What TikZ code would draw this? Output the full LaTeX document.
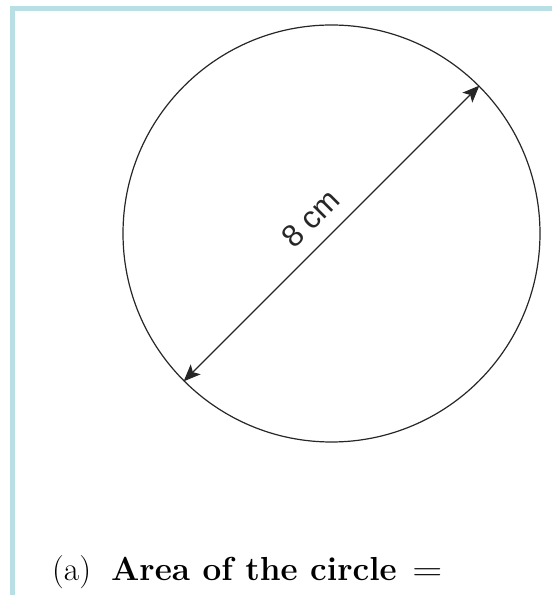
\documentclass[tikz,border=0pt]{standalone}
\usepackage{fontspec}
\newfontfamily\labelfont{Liberation Sans}
\usepackage{xcolor}
\usetikzlibrary{arrows.meta, positioning}
\definecolor{framecyan}{RGB}{184,224,228}
\begin{document}
\begin{tikzpicture}[
    x=1pt, y=1pt,
    frame/.style={draw=framecyan, line width=5pt},
    disc/.style={circle, draw=black!85, line width=1.2pt, minimum size=417pt, inner sep=0pt},
    arrow/.style={{Stealth[length=17pt,width=14pt,inset=4pt]}-{Stealth[length=17pt,width=14pt,inset=4pt]}, line width=1.1pt, black!85},
    question/.style={inner sep=0pt, anchor=base west, font=\fontsize{33.3}{40}\selectfont}
  ]
  \useasboundingbox (0,0) rectangle (552,595);
  \draw[frame] (12,0) -- (12,586) -- (552,586);

  \node[disc] (circ) at (331.5,361.5) {};
  \draw[arrow] (circ.225) -- (circ.45)
    node[pos=0.49, sloped, above=14pt, inner sep=0pt, font=\labelfont\fontsize{31}{36}\selectfont] (len) {8 cm};

  \node[question] (q) at (52,15) {(a)\ \ \textbf{Area of the circle}\ \,\scalebox{1.25}[1]{=}};
\end{tikzpicture}
\end{document}
